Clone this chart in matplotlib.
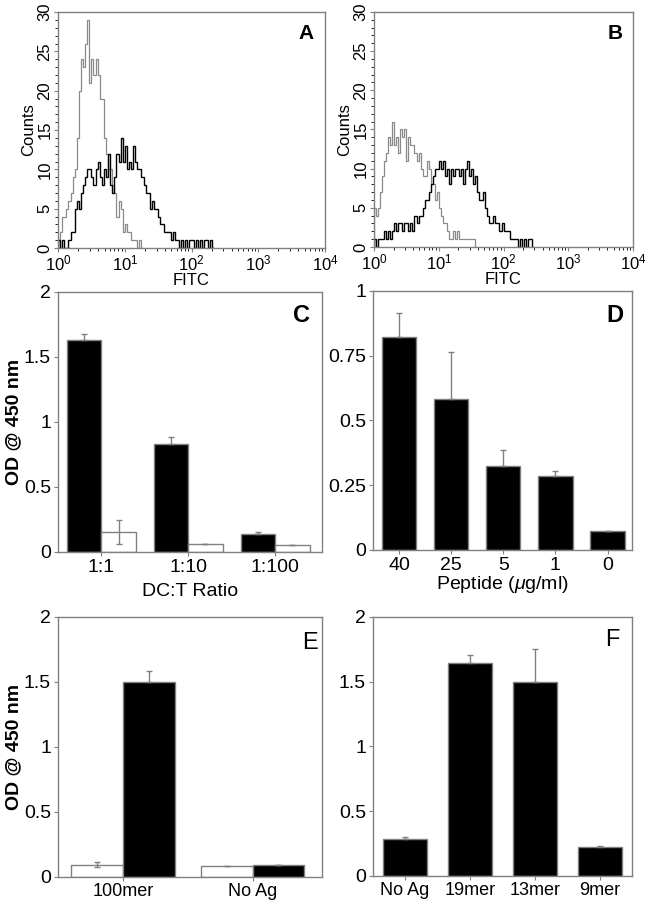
import numpy as np
import matplotlib
matplotlib.use('Agg')
import matplotlib.pyplot as plt
from matplotlib.ticker import MultipleLocator, LogLocator, NullFormatter

plt.rcParams['font.family'] = ['Liberation Sans', 'DejaVu Sans']
plt.rcParams['mathtext.fontset'] = 'custom'
plt.rcParams['mathtext.rm'] = 'Liberation Sans'
plt.rcParams['mathtext.it'] = 'Liberation Sans:italic'
plt.rcParams['mathtext.default'] = 'regular'

# ---- flow histograms: counts per channel, 32 channels per decade starting at 10^0
bins_per_decade = 32
a_gray = [1, 2, 4, 4, 5, 6, 7, 9, 10, 14, 20, 24, 23, 26, 29, 21, 24, 22, 24, 22,
          19, 19, 14, 12, 10, 10, 8, 7, 4, 6, 5, 2, 3, 2, 2, 1, 1, 1, 0, 1, 0]
a_black = [1, 0, 1, 0, 0, 1, 2, 2, 5, 6, 5, 7, 8, 9, 10, 10, 9, 8, 10, 11,
           9, 8, 10, 9, 12, 8, 7, 9, 12, 11, 14, 11, 13, 10, 11, 10, 13, 11, 10, 10,
           9, 8, 7, 7, 5, 6, 5, 5, 4, 3, 3, 2, 2, 2, 1, 2, 1, 1, 0, 1,
           0, 1, 0, 1, 1, 0, 1, 0, 1, 0, 1, 1, 0, 1, 0]
b_gray = [5, 4, 5, 7, 9, 11, 12, 14, 13, 16, 13, 14, 12, 15, 14, 15, 11, 14, 13, 13,
          12, 11, 12, 10, 9, 9, 11, 10, 8, 8, 6, 7, 5, 4, 3, 3, 2, 1, 1, 2,
          1, 2, 1, 1, 1, 1, 1, 1, 1, 1, 0]
b_black = [1, 0, 1, 1, 1, 2, 1, 2, 1, 2, 3, 2, 3, 3, 2, 3, 3, 2, 3, 2,
           4, 3, 4, 4, 5, 6, 6, 7, 8, 9, 10, 10, 11, 10, 11, 9, 10, 8, 10, 9,
           10, 10, 9, 10, 8, 10, 11, 9, 10, 8, 9, 7, 6, 6, 7, 5, 4, 3, 3, 4,
           3, 3, 2, 3, 2, 2, 2, 1, 1, 1, 1, 0, 1, 0, 1, 0, 1, 1, 0]

# ---- panel C
c_groups = ['1:1', '1:10', '1:100']
c_black = [1.633, 0.833, 0.136]
c_black_err = [0.047, 0.052, 0.018]
c_white = [0.154, 0.064, 0.056]
c_white_err = [0.09, 0.0, 0.0]

# ---- panel D
d_groups = ['40', '25', '5', '1', '0']
d_vals = [0.824, 0.583, 0.326, 0.287, 0.073]
d_err = [0.09, 0.183, 0.06, 0.018, 0.0]

# ---- panel E
e_groups = ['100mer', 'No Ag']
e_white = [0.095, 0.085]
e_white_err = [0.02, 0.0]
e_black = [1.497, 0.095]
e_black_err = [0.088, 0.0]

# ---- panel F
f_groups = ['No Ag', '19mer', '13mer', '9mer']
f_vals = [0.285, 1.648, 1.501, 0.221]
f_err = [0.018, 0.062, 0.249, 0.013]

GRAY = '#808080'
TICK_FS = 14

fig = plt.figure(figsize=(6.49, 9.0), dpi=100)


def frame(ax):
    for s in ax.spines.values():
        s.set_color(GRAY)
        s.set_linewidth(1.0)
    ax.tick_params(colors=GRAY, labelcolor='black', direction='out')


def hist_panel(ax, gray, black, letter):
    frame(ax)
    n = max(len(gray), len(black))
    edges = 10 ** (np.arange(n + 1) / bins_per_decade)
    ax.stairs(gray, edges[:len(gray) + 1], color='#8a8a8a', lw=0.9)
    ax.stairs(black, edges[:len(black) + 1], color='black', lw=1.0)
    ax.set_xscale('log')
    ax.set_xlim(1, 1e4)
    ax.set_ylim(0, 30)
    ax.yaxis.set_major_locator(MultipleLocator(5))
    ax.yaxis.set_minor_locator(MultipleLocator(1))
    ax.xaxis.set_major_locator(LogLocator(base=10, numticks=10))
    ax.xaxis.set_minor_locator(LogLocator(base=10, subs=np.arange(2, 10), numticks=10))
    ax.xaxis.set_minor_formatter(NullFormatter())
    ax.tick_params(which='major', length=3, labelsize=12, pad=1)
    ax.tick_params(which='minor', length=2)
    for lab in ax.get_yticklabels():
        lab.set_rotation(90)
        lab.set_va('center')
    ax.set_ylabel('Counts', fontsize=12, labelpad=1)
    ax.set_xlabel('FITC', fontsize=12, labelpad=0)
    ax.text(0.93, 0.91, letter, transform=ax.transAxes, fontsize=15,
            fontweight='bold', ha='center', va='center')


axA = fig.add_axes([0.0894, 0.7244, 0.4114, 0.2622])
hist_panel(axA, a_gray, a_black, 'A')
axB = fig.add_axes([0.5763, 0.7256, 0.3991, 0.2611])
hist_panel(axB, b_gray, b_black, 'B')

bar_kw = dict(edgecolor=GRAY, linewidth=1.0)
err_kw = dict(ecolor=GRAY, elinewidth=1.0, capsize=2, capthick=1.0)


def bar_axes(ax):
    frame(ax)
    ax.tick_params(labelsize=TICK_FS, length=3, pad=2)


# C
axC = fig.add_axes([0.0894, 0.3867, 0.4068, 0.2889])
bar_axes(axC)
xc = np.arange(len(c_groups))
w = 0.396
axC.bar(xc - w / 2, c_black, w, color='black', yerr=[[0] * 3, c_black_err], error_kw=err_kw, **bar_kw)
axC.bar(xc + w / 2, c_white, w, color='white', yerr=c_white_err, error_kw=err_kw, **bar_kw)
axC.set_xlim(-0.5, 2.54)
axC.set_ylim(0, 2)
axC.set_xticks(xc)
axC.set_xticklabels(c_groups)
axC.set_yticks([0, 0.5, 1, 1.5, 2])
axC.set_yticklabels(['0', '0.5', '1', '1.5', '2'])
axC.set_xlabel('DC:T Ratio', fontsize=TICK_FS, labelpad=5)
axC.set_ylabel('OD @ 450 nm', fontsize=14, fontweight='bold', labelpad=1)
axC.text(0.924, 0.91, 'C', transform=axC.transAxes, fontsize=17, fontweight='bold', ha='center', va='center')

# D
axD = fig.add_axes([0.5747, 0.3889, 0.3991, 0.2878])
bar_axes(axD)
xd = np.arange(len(d_groups))
axD.bar(xd, d_vals, 0.66, color='black', yerr=[[0] * 5, d_err], error_kw=err_kw, **bar_kw)
axD.set_xlim(-0.5, 4.47)
axD.set_ylim(0, 1)
axD.set_xticks(xd)
axD.set_xticklabels(d_groups)
axD.set_yticks([0, 0.25, 0.5, 0.75, 1])
axD.set_yticklabels(['0', '0.25', '0.5', '0.75', '1'])
axD.set_xlabel(r'Peptide ($\mathit{\mu}$g/ml)', fontsize=TICK_FS, labelpad=0)
axD.text(0.934, 0.907, 'D', transform=axD.transAxes, fontsize=17, fontweight='bold', ha='center', va='center')

# E
axE = fig.add_axes([0.0894, 0.0256, 0.4068, 0.2889])
bar_axes(axE)
xe = np.arange(len(e_groups))
w = 0.4
axE.bar(xe - w / 2, e_white, w, color='white', yerr=e_white_err, error_kw=err_kw, **bar_kw)
axE.bar(xe + w / 2, e_black, w, color='black', yerr=[[0] * 2, e_black_err], error_kw=err_kw, **bar_kw)
axE.set_xlim(-0.504, 1.537)
axE.set_ylim(0, 2)
axE.set_xticks(xe)
axE.set_xticklabels(e_groups, fontsize=13)
axE.tick_params(axis='x', pad=1)
axE.set_yticks([0, 0.5, 1, 1.5, 2])
axE.set_yticklabels(['0', '0.5', '1', '1.5', '2'])
axE.set_ylabel('OD @ 450 nm', fontsize=14, fontweight='bold', labelpad=1)
axE.text(0.955, 0.9, 'E', transform=axE.transAxes, fontsize=17, ha='center', va='center')

# F
axF = fig.add_axes([0.5747, 0.0267, 0.3991, 0.2878])
bar_axes(axF)
xf = np.arange(len(f_groups))
axF.bar(xf, f_vals, 0.667, color='black', yerr=[[0] * 4, f_err], error_kw=err_kw, **bar_kw)
axF.set_xlim(-0.49, 3.49)
axF.set_ylim(0, 2)
axF.set_xticks(xf)
axF.set_xticklabels(f_groups, fontsize=13)
axF.tick_params(axis='x', pad=1)
axF.set_yticks([0, 0.5, 1, 1.5, 2])
axF.set_yticklabels(['0', '0.5', '1', '1.5', '2'])
axF.text(0.923, 0.91, 'F', transform=axF.transAxes, fontsize=17, ha='center', va='center')

fig.savefig('out.png', dpi=100)
